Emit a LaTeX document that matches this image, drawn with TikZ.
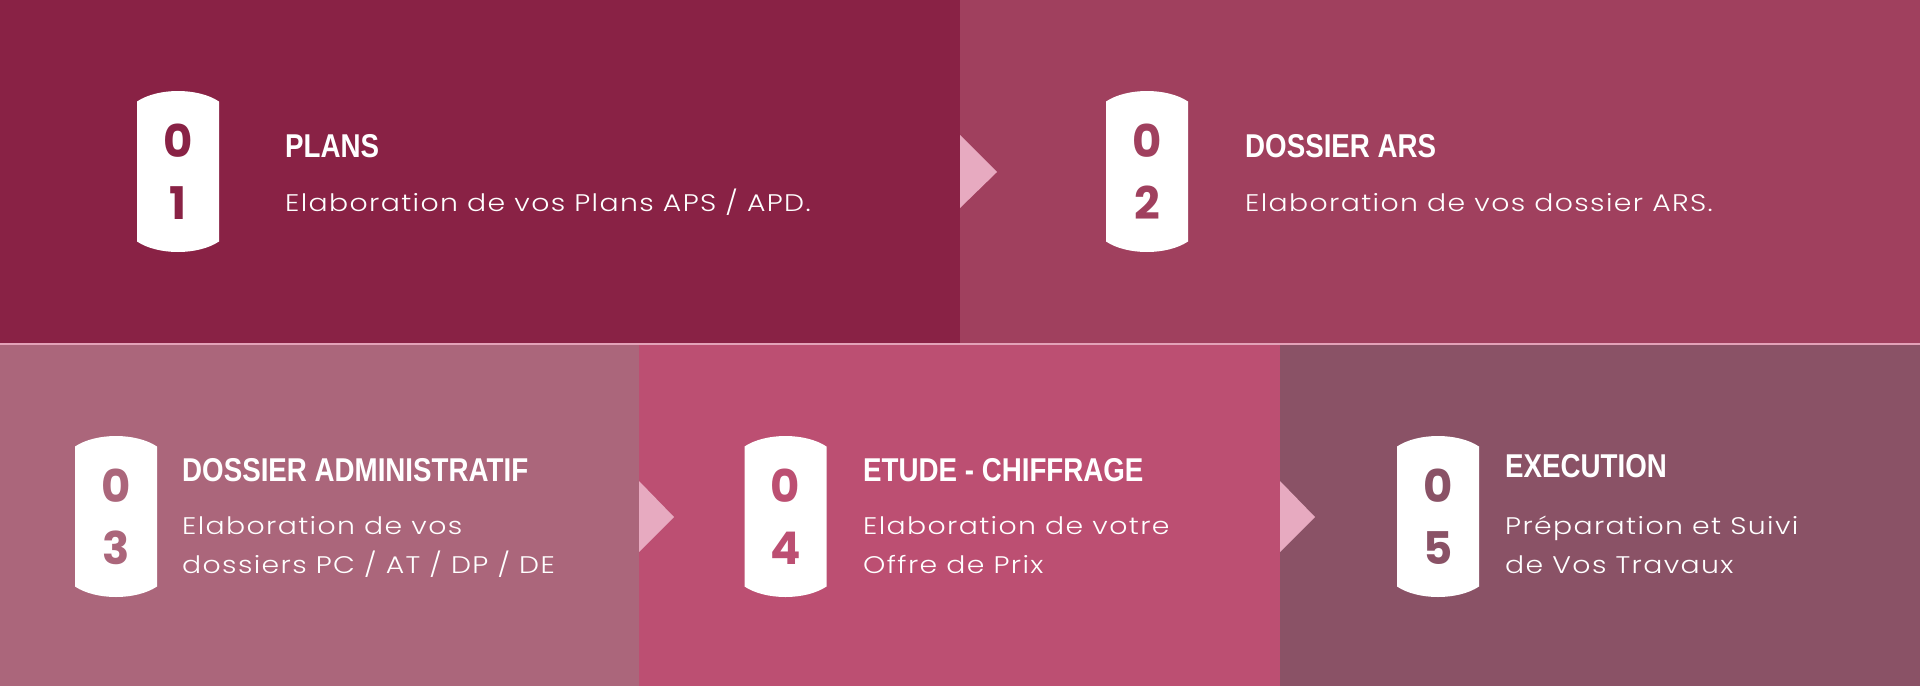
\documentclass[tikz,border=0pt]{standalone}
\usepackage{fontspec}
\newfontfamily\titlefont{Liberation Sans}[FakeStretch=0.84]
\newfontfamily\bodyfont{Poppins Light}[FakeStretch=1.18,LetterSpace=5.7]
\newfontfamily\digitfont{Poppins}
\definecolor{cA}{HTML}{892245}
\definecolor{cB}{HTML}{A0405E}
\definecolor{cC}{HTML}{AB667B}
\definecolor{cD}{HTML}{BC4F72}
\definecolor{cE}{HTML}{8A5266}
\definecolor{tri}{HTML}{E7AAC0}
\definecolor{sepline}{HTML}{E3A2B8}
\tikzset{
  badge/.pic={\fill[white] (-41,-70) .. controls (-20,-84) and (20,-84) .. (41,-70) -- (41,70) .. controls (20,84) and (-20,84) .. (-41,70) -- cycle;},
  digit/.style={inner sep=0pt, font={\digitfont\bfseries\fontsize{45}{45}\selectfont}},
  title/.style={inner sep=0pt, anchor=base west, text=white, font={\titlefont\bfseries\fontsize{33}{33}\selectfont}},
  body/.style={inner sep=0pt, anchor=base west, text=white, align=left, font={\bodyfont\fontsize{24}{39}\selectfont}},
  arrowtri/.style={fill=tri}
}
\begin{document}
\begin{tikzpicture}[x=1pt,y=-1pt]
\useasboundingbox (0,0) rectangle (1920,686);
% panels
\fill[cA] (0,0) rectangle (960,344);
\fill[cB] (960,0) rectangle (1920,344);
\fill[cC] (0,344) rectangle (639,686);
\fill[cD] (639,344) rectangle (1280,686);
\fill[cE] (1280,344) rectangle (1920,686);
\draw[sepline, line width=1.5pt] (0,344) -- (1920,344);
% triangles
\fill[arrowtri] (960,135) -- (997,172) -- (960,208) -- cycle;
\fill[arrowtri] (639,481) -- (674,517) -- (639,552) -- cycle;
\fill[arrowtri] (1280,481) -- (1315,517) -- (1280,552) -- cycle;
% badges
\pic at (178,171.5) {badge};
\pic at (1147,171.5) {badge};
\pic at (116,516.5) {badge};
\pic at (785.5,516.5) {badge};
\pic at (1438,516.5) {badge};
% digits
\node[digit, text=cA] (d1a) at (178,141) {0};
\node[digit, text=cA] (d1b) at (178,203) {1};
\node[digit, text=cB] (d2a) at (1147,141) {0};
\node[digit, text=cB] (d2b) at (1147,203) {2};
\node[digit, text=cC] (d3a) at (116,486) {0};
\node[digit, text=cC] (d3b) at (116,548) {3};
\node[digit, text=cD] (d4a) at (785.5,486) {0};
\node[digit, text=cD] (d4b) at (785.5,548) {4};
\node[digit, text=cE] (d5a) at (1438,486) {0};
\node[digit, text=cE] (d5b) at (1438,548) {5};
% titles
\node[title] (t1) at (285,157.5) {PLANS};
\node[title] (t2) at (1245,157.5) {DOSSIER ARS};
\node[title] (t3) at (182,481) {DOSSIER ADMINISTRATIF};
\node[title] (t4) at (863,481) {ETUDE - CHIFFRAGE};
\node[title] (t5) at (1505,477) {EXECUTION};
% bodies
\node[body] (b1) at (285,211) {Elaboration de vos Plans APS / APD.};
\node[body] (b2) at (1245,211) {Elaboration de vos dossier ARS.};
\node[body] (b3) at (182,573) {Elaboration de vos\\dossiers PC / AT / DP / DE};
\node[body] (b4) at (863,573) {Elaboration de votre\\Offre de Prix};
\node[body] (b5) at (1505,573) {Préparation et Suivi\\de Vos Travaux};
\end{tikzpicture}
\end{document}
